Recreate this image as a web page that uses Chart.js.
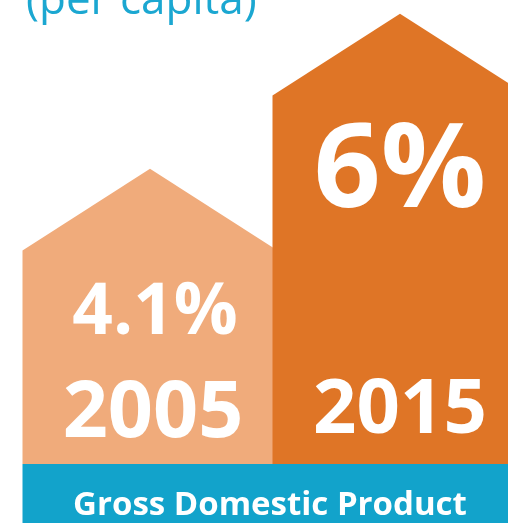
<!DOCTYPE html>
<html>
<head>
<meta charset="utf-8">
<script src="https://cdn.jsdelivr.net/npm/chart.js@4/dist/chart.umd.min.js"></script>
<style>
  html, body { margin: 0; padding: 0; background: #fff; overflow: hidden; }
  #wrap { position: absolute; left: 0; top: 0; width: 525px; height: 523px; }
</style>
</head>
<body>
<div id="wrap"><canvas id="gdpChart"></canvas></div>
<script>
let years = ['2005', '2015'];
let growth = [4.1, 6];
let valueLabels = ['4.1%', '6%'];
let barColors = ['#F0AB7B', '#DF7526'];
let titleText = '(per capita)';
let footerText = 'Gross Domestic Product';

// draws each bar as a house (rectangle + roof), labels and the blue band
let housePlugin = {
    id: 'houses',
    beforeDatasetDraw: function(chart, args) {
        let ctx = chart.ctx;
        let bottom = chart.chartArea.bottom;
        args.meta.data.forEach(function(bar, i) {
            let p = bar.getProps(['x', 'y', 'width'], true);
            let left = p.x - p.width / 2;
            let right = p.x + p.width / 2;
            let roof = p.width / 2 * 0.64;
            ctx.save();
            ctx.fillStyle = barColors[i];
            ctx.beginPath();
            ctx.moveTo(left, bottom);
            ctx.lineTo(left, p.y + roof);
            ctx.lineTo(p.x, p.y);
            ctx.lineTo(right, p.y + roof);
            ctx.lineTo(right, bottom);
            ctx.closePath();
            ctx.fill();
            ctx.restore();
        });
        return false;
    },
    afterDatasetsDraw: function(chart) {
        let ctx = chart.ctx;
        let bars = chart.getDatasetMeta(0).data;
        let bandLeft = bars[0].x - bars[0].width / 2;
        let bandTop = chart.chartArea.bottom;

        ctx.save();
        ctx.fillStyle = '#12A3CB';
        ctx.fillRect(bandLeft, bandTop, chart.width - bandLeft, chart.height - bandTop);

        ctx.fillStyle = '#fff';
        ctx.textAlign = 'center';
        ctx.textBaseline = 'alphabetic';
        ctx.font = 'bold 33px "Open Sans"';
        ctx.fillText(footerText, 270, 515);

        // value and year labels
        let valueFont = ['bold 71px "Open Sans"', 'bold 117px "Open Sans"'];
        let valueBase = [334, 207];
        let yearBase = [437, 433];
        bars.forEach(function(bar, i) {
            let x = bar.x;
            ctx.font = valueFont[i];
            ctx.fillText(valueLabels[i], x + (i === 0 ? 5 : 0), valueBase[i]);
            ctx.font = i === 0 ? 'bold 79px "Open Sans"' : 'bold 76px "Open Sans"';
            ctx.fillText(years[i], x + (i === 0 ? 3 : 0), yearBase[i]);
        });

        // title, partly cut off at the top
        ctx.textAlign = 'left';
        ctx.fillStyle = '#1BA7D1';
        ctx.font = '44px "Open Sans"';
        ctx.fillText(titleText, 26, 14);
        ctx.restore();
    }
};

let chart = document.getElementById('gdpChart');
let gdpChart = new Chart(chart, {
    type: 'bar',
    data: {
        labels: years,
        datasets: [
            {
                label: 'GDP growth per capita',
                data: growth,
                backgroundColor: barColors,
                barThickness: 255
            }
        ]
    },
    options: {
        responsive: true,
        maintainAspectRatio: false,
        animation: false,
        devicePixelRatio: 1,
        layout: { padding: { left: 25, right: 0, top: 0, bottom: 59 } },
        plugins: {
            legend: { display: false },
            tooltip: { enabled: false },
            title: { display: false }
        },
        scales: {
            x: { display: false },
            y: { display: false, min: 0.48, max: 6.17 }
        }
    },
    plugins: [housePlugin]
});
</script>
</body>
</html>
